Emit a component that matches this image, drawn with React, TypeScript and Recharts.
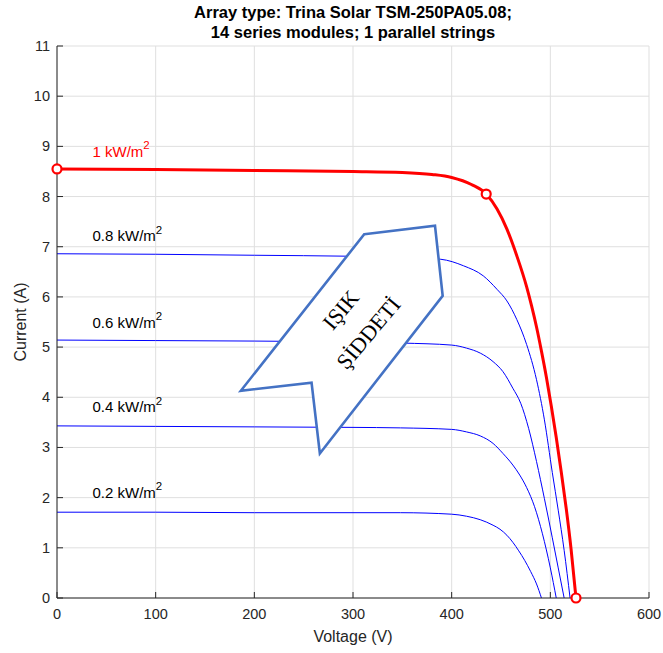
import React from 'react';
import {
  ComposedChart,
  Line,
  XAxis,
  YAxis,
  CartesianGrid,
  ReferenceArea,
  ReferenceDot,
  Customized,
} from 'recharts';

// ---------- data ----------
const voltageTicks = [0, 100, 200, 300, 400, 500, 600];
const currentTicks = [0, 1, 2, 3, 4, 5, 6, 7, 8, 9, 10, 11];

const v100 = [0, 100, 200, 300, 350, 380, 400, 420, 435, 446, 456, 466, 476, 481, 486, 491, 496, 501, 506, 511, 516, 521, 526];
const i100 = [8.55, 8.54, 8.52, 8.5, 8.48, 8.44, 8.38, 8.24, 8.05, 7.75, 7.35, 6.82, 6.2, 5.82, 5.4, 4.92, 4.4, 3.82, 3.2, 2.52, 1.8, 0.98, 0];

const v80 = [0, 100, 200, 300, 350, 389, 412, 432, 446, 456, 466, 476, 486, 494, 502, 508, 514, 520];
const i80 = [6.86, 6.85, 6.83, 6.81, 6.79, 6.75, 6.62, 6.42, 6.15, 5.92, 5.55, 5.05, 4.35, 3.55, 2.5, 1.75, 0.95, 0];

const v60 = [0, 100, 200, 300, 350, 400, 415, 429, 442, 452, 462, 470, 478, 486, 494, 502, 508, 514];
const i60 = [5.14, 5.13, 5.12, 5.1, 5.08, 5.04, 4.98, 4.88, 4.71, 4.51, 4.18, 3.88, 3.38, 2.72, 1.98, 1.2, 0.6, 0];

const v40 = [0, 100, 200, 300, 348, 400, 415, 429, 442, 452, 462, 469, 476, 484, 492, 500, 506];
const i40 = [3.43, 3.42, 3.41, 3.4, 3.39, 3.36, 3.31, 3.23, 3.08, 2.88, 2.65, 2.45, 2.2, 1.82, 1.28, 0.6, 0];

const v20 = [0, 100, 200, 300, 348, 400, 415, 429, 442, 449, 456, 462, 468, 474, 480, 486, 491];
const i20 = [1.71, 1.71, 1.7, 1.7, 1.7, 1.67, 1.63, 1.56, 1.45, 1.37, 1.25, 1.11, 0.94, 0.75, 0.53, 0.28, 0];

const markerV = [0, 435, 526];
const markerI = [8.55, 8.05, 0];

const labelTexts = ['1 kW/m', '0.8 kW/m', '0.6 kW/m', '0.4 kW/m', '0.2 kW/m'];
const labelSup = '2';
const labelV = [36, 36, 36, 36, 36];
const labelI = [8.9, 7.22, 5.5, 3.81, 2.11];

const arrowV = [311.4, 383.1, 390.9, 266.4, 258.0, 186.3];
const arrowI = [7.25, 7.42, 6.02, 2.88, 4.29, 4.13];
const arrowTextV = 301.6;
const arrowTextI = 5.51;
const arrowLines = ['IŞIK', 'ŞİDDETİ'];

const titleLines = ['Array type: Trina Solar TSM-250PA05.08;', '14 series modules; 1 parallel strings'];
const xLabel = 'Voltage (V)';
const yLabel = 'Current (A)';

// ---------- helpers ----------
const toPoints = (vs: number[], is: number[]) => vs.map((v, k) => ({ v, i: is[k] }));

const series = [
  { key: 'c20', data: toPoints(v20, i20), color: '#0000ff', width: 1 },
  { key: 'c40', data: toPoints(v40, i40), color: '#0000ff', width: 1 },
  { key: 'c60', data: toPoints(v60, i60), color: '#0000ff', width: 1 },
  { key: 'c80', data: toPoints(v80, i80), color: '#0000ff', width: 1 },
  { key: 'c100', data: toPoints(v100, i100), color: '#ff0000', width: 3 },
];

const labelColors = ['#ff0000', '#000000', '#000000', '#000000', '#000000'];

const W = 663;
const H = 653;
const AX = '#262626';
const FONT = 'Liberation Sans, Arial, Helvetica, sans-serif';
const TICK_FS = 14.5;
const TICK_LEN = 6;

const BottomTick = (p: any) => (
  <g>
    <line x1={p.x} y1={p.y} x2={p.x} y2={p.y - TICK_LEN} stroke={AX} strokeWidth={1} />
    <text x={p.x} y={p.y + 21} textAnchor="middle" fill={AX} fontSize={TICK_FS} fontFamily={FONT}>
      {p.payload.value}
    </text>
  </g>
);
const TopTick = (p: any) => (
  <line x1={p.x} y1={p.y} x2={p.x} y2={p.y + TICK_LEN} stroke={AX} strokeWidth={1} />
);
const LeftTick = (p: any) => (
  <g>
    <line x1={p.x} y1={p.y} x2={p.x + TICK_LEN} y2={p.y} stroke={AX} strokeWidth={1} />
    <text x={p.x - 7} y={p.y + 5} textAnchor="end" fill={AX} fontSize={TICK_FS} fontFamily={FONT}>
      {p.payload.value}
    </text>
  </g>
);
const RightTick = (p: any) => (
  <line x1={p.x} y1={p.y} x2={p.x - TICK_LEN} y2={p.y} stroke={AX} strokeWidth={1} />
);

const vMin = Math.min(...arrowV);
const vMax = Math.max(...arrowV);
const iMin = Math.min(...arrowI);
const iMax = Math.max(...arrowI);

const ArrowShape = (p: any) => {
  const { x, y, width, height } = p;
  const mx = (v: number) => x + ((v - vMin) / (vMax - vMin)) * width;
  const my = (i: number) => y + ((iMax - i) / (iMax - iMin)) * height;
  const pts = arrowV.map((v, k) => `${mx(v)},${my(arrowI[k])}`).join(' ');
  const cx = mx(arrowTextV);
  const cy = my(arrowTextI);
  return (
    <g>
      <polygon points={pts} fill="#ffffff" stroke="#4472c4" strokeWidth={2.6} strokeLinejoin="miter" />
      <g transform={`rotate(-50 ${cx} ${cy})`}>
        {arrowLines.map((t, k) => (
          <text
            key={t}
            x={cx}
            y={cy + (k === 0 ? -18 : 18)}
            textAnchor="middle"
            dominantBaseline="central"
            fontFamily="Liberation Serif, Times New Roman, serif"
            fontSize={22}
            fill="#000000"
          >
            {t}
          </text>
        ))}
      </g>
    </g>
  );
};

const makeLabelShape = (k: number) => (p: any) => (
  <text
    x={p.cx}
    y={p.cy}
    dominantBaseline="central"
    fontFamily={FONT}
    fontSize={15}
    fill={labelColors[k]}
  >
    {labelTexts[k]}
    <tspan fontSize={11.5} dy={-6}>
      {labelSup}
    </tspan>
  </text>
);

const MarkerShape = (p: any) => (
  <circle cx={p.cx} cy={p.cy} r={4.5} fill="#ffffff" stroke="#ff0000" strokeWidth={2.2} />
);

const TextLayer = () => (
  <g>
    <text x={353} y={18} textAnchor="middle" fontFamily={FONT} fontWeight="bold" fontSize={16.5} fill="#000">
      {titleLines[0]}
    </text>
    <text x={353} y={38} textAnchor="middle" fontFamily={FONT} fontWeight="bold" fontSize={16.5} fill="#000">
      {titleLines[1]}
    </text>
    <text x={353} y={642} textAnchor="middle" fontFamily={FONT} fontSize={16} fill={AX}>
      {xLabel}
    </text>
    <text
      x={26}
      y={322}
      textAnchor="middle"
      transform="rotate(-90 26 322)"
      fontFamily={FONT}
      fontSize={16}
      fill={AX}
    >
      {yLabel}
    </text>
  </g>
);

export default function App() {
  return (
    <div style={{ position: 'absolute', left: 0, top: 0, width: W, height: H, background: '#fff' }}>
      <ComposedChart width={W} height={H} margin={{ top: 46, right: 14, bottom: 0, left: 0 }}>
        <CartesianGrid stroke="#dfdfdf" strokeWidth={1} />
        <XAxis
          dataKey="v"
          type="number"
          domain={[0, 600]}
          ticks={voltageTicks}
          allowDataOverflow
          height={55}
          tickSize={0}
          tickMargin={0}
          tick={BottomTick}
          axisLine={{ stroke: AX, strokeWidth: 1 }}
          tickLine={false}
        />
        <XAxis
          xAxisId="top"
          orientation="top"
          dataKey="v"
          type="number"
          domain={[0, 600]}
          ticks={voltageTicks}
          height={0}
          tickSize={0}
          tickMargin={0}
          tick={TopTick}
          axisLine={{ stroke: AX, strokeWidth: 1 }}
          tickLine={false}
        />
        <YAxis
          type="number"
          domain={[0, 11]}
          ticks={currentTicks}
          allowDataOverflow
          width={57}
          tickSize={0}
          tickMargin={0}
          tick={LeftTick}
          axisLine={{ stroke: AX, strokeWidth: 1 }}
          tickLine={false}
        />
        <YAxis
          yAxisId="right"
          orientation="right"
          type="number"
          domain={[0, 11]}
          ticks={currentTicks}
          width={0}
          tickSize={0}
          tickMargin={0}
          tick={RightTick}
          axisLine={{ stroke: AX, strokeWidth: 1 }}
          tickLine={false}
        />
        {series.map((s) => (
          <Line
            key={s.key}
            data={s.data}
            dataKey="i"
            type="monotone"
            stroke={s.color}
            strokeWidth={s.width}
            dot={false}
            activeDot={false}
            isAnimationActive={false}
          />
        ))}
        <ReferenceArea
          x1={vMin}
          x2={vMax}
          y1={iMin}
          y2={iMax}
          ifOverflow="visible"
          shape={ArrowShape}
          zIndex={450}
        />
        {labelTexts.map((t, k) => (
          <ReferenceDot key={t} x={labelV[k]} y={labelI[k]} r={0} ifOverflow="visible" shape={makeLabelShape(k)} />
        ))}
        {markerV.map((v, k) => (
          <ReferenceDot key={`m${k}`} x={v} y={markerI[k]} ifOverflow="visible" shape={MarkerShape} />
        ))}
        <Customized component={<TextLayer />} />
      </ComposedChart>
    </div>
  );
}
